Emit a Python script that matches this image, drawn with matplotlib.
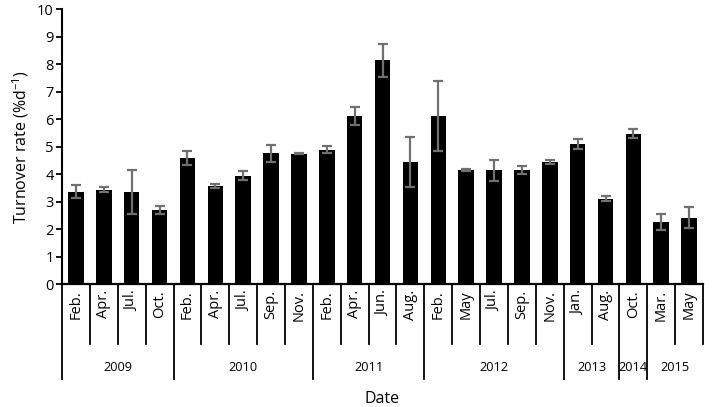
import matplotlib
matplotlib.use("Agg")
import matplotlib.pyplot as plt
import numpy as np

months = ['Feb.', 'Apr.', 'Jul.', 'Oct.', 'Feb.', 'Apr.', 'Jul.', 'Sep.', 'Nov.',
          'Feb.', 'Apr.', 'Jun.', 'Aug.', 'Feb.', 'May', 'Jul.', 'Sep.', 'Nov.',
          'Jan.', 'Aug.', 'Oct.', 'Mar.', 'May']
years = ['2009', '2010', '2011', '2012', '2013', '2014', '2015']
year_counts = [4, 5, 4, 5, 2, 1, 2]
values = [3.37, 3.45, 3.37, 2.72, 4.60, 3.58, 3.95, 4.77, 4.75, 4.90, 6.13, 8.15,
          4.45, 6.13, 4.15, 4.15, 4.15, 4.45, 5.10, 3.12, 5.48, 2.28, 2.42]
errors = [0.24, 0.08, 0.80, 0.15, 0.25, 0.09, 0.17, 0.30, 0.02, 0.13, 0.32, 0.60,
          0.90, 1.28, 0.03, 0.38, 0.15, 0.07, 0.17, 0.08, 0.17, 0.30, 0.38]

plt.rcParams['font.family'] = ['Open Sans', 'DejaVu Sans']

fig = plt.figure(figsize=(7.16, 4.07), dpi=100)
ax = fig.add_axes([0.0866, 0.301, 0.8954, 0.676])

x = np.arange(len(months))
ax.bar(x, values, width=0.56, color='black', zorder=2)
ax.errorbar(x, values, yerr=errors, fmt='none', ecolor='#707070',
            elinewidth=1.6, capsize=3.8, capthick=1.6, zorder=3)

ax.set_xlim(-0.5, len(months) - 0.5)
ax.set_ylim(0, 10)
ax.set_yticks(range(0, 11))
ax.tick_params(axis='y', direction='out', length=4, width=1.3, labelsize=10.5, pad=2)
ax.set_xticks([])
for s in ['top', 'right']:
    ax.spines[s].set_visible(False)
ax.spines['left'].set_linewidth(1.5)
ax.spines['bottom'].set_linewidth(1.6)

ax.set_ylabel('Turnover rate (%d$^{\\mathregular{-1}}$)', fontsize=11.5, labelpad=4)

trans = ax.get_xaxis_transform()
month_bottom = -0.217
year_bottom = -0.345

# month labels
for i, m in enumerate(months):
    ax.text(i, -0.02, m, rotation=90, ha='center', va='top', fontsize=10.5,
            transform=trans, clip_on=False)

# separators
year_edges = np.concatenate([[0], np.cumsum(year_counts)])
for k in range(len(months) + 1):
    long_line = k in year_edges[:-1]
    bottom = year_bottom if long_line else month_bottom
    ax.plot([k - 0.5, k - 0.5], [0, bottom], color='black', lw=1.3,
            transform=trans, clip_on=False)

# year labels
for j, yname in enumerate(years):
    c = (year_edges[j] + year_edges[j + 1]) / 2 - 0.5
    ax.text(c, -0.303, yname, ha='center', va='center', fontsize=9.2,
            transform=trans, clip_on=False)

ax.text(0.5, -0.415, 'Date', ha='center', va='center', fontsize=11.5,
        transform=ax.transAxes, clip_on=False)

fig.savefig('out.png', dpi=100)
